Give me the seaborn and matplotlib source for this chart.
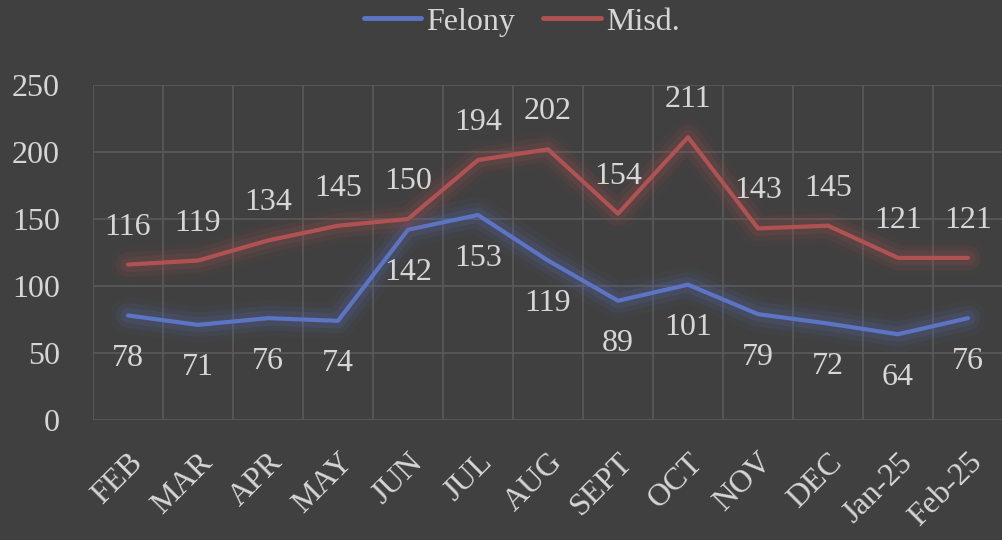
import matplotlib
matplotlib.use("Agg")
import matplotlib.pyplot as plt
import matplotlib.patheffects as pe
import pandas as pd
import seaborn as sns

months = ["FEB", "MAR", "APR", "MAY", "JUN", "JUL", "AUG", "SEPT", "OCT",
          "NOV", "DEC", "Jan-25", "Feb-25"]
felony = [78, 71, 76, 74, 142, 153, 119, 89, 101, 79, 72, 64, 76]
misd = [116, 119, 134, 145, 150, 194, 202, 154, 211, 143, 145, 121, 121]
y_ticks = [0, 50, 100, 150, 200, 250]

BG = "#404040"
TXT = "#d6d6d6"
GRID = "#5a5a5a"
COLORS = {"Felony": "#5b74c4", "Misd.": "#b05252"}

sns.set_theme(style="dark")
plt.rcParams["font.family"] = ["Liberation Serif", "DejaVu Serif"]

df = pd.concat([
    pd.DataFrame({"pos": range(len(months)), "value": felony, "series": "Felony"}),
    pd.DataFrame({"pos": range(len(months)), "value": misd, "series": "Misd."}),
])

fig = plt.figure(figsize=(10.03, 5.40), dpi=100, facecolor=BG)
ax = fig.add_axes([93 / 1003, (540 - 420) / 540, 1 - 93 / 1003, 335 / 540])
ax.set_facecolor(BG)

sns.lineplot(data=df, x="pos", y="value", hue="series", palette=COLORS,
             linewidth=3, ax=ax, legend=False, zorder=3)

# soft glow round each line
for line in ax.get_lines():
    c = line.get_color()
    line.set_path_effects([
        pe.Stroke(linewidth=26, foreground=c, alpha=0.05),
        pe.Stroke(linewidth=18, foreground=c, alpha=0.08),
        pe.Stroke(linewidth=11, foreground=c, alpha=0.14),
        pe.Normal(),
    ])

for i, v in enumerate(misd):
    ax.annotate(str(v), (i, v), xytext=(0, 27), textcoords="offset points",
                ha="center", va="center", color=TXT, fontsize=23)
for i, v in enumerate(felony):
    ax.annotate(str(v), (i, v), xytext=(0, -31), textcoords="offset points",
                ha="center", va="center", color=TXT, fontsize=23)

ax.set_xlim(-0.5, len(months) - 0.5)
ax.set_ylim(0, 250)
ax.set_xticks(range(len(months)))
ax.set_xticklabels(months, rotation=45, ha="right", rotation_mode="anchor",
                   fontsize=23, color=TXT)
ax.set_xticks([i - 0.5 for i in range(len(months) + 1)], minor=True)
ax.set_yticks(y_ticks)
ax.set_yticklabels([str(t) for t in y_ticks], fontsize=23, color=TXT)
ax.tick_params(axis="x", which="major", length=0, pad=20)
ax.tick_params(axis="x", which="minor", length=0)
ax.tick_params(axis="y", length=0, pad=24)
ax.grid(False)
ax.grid(True, axis="x", which="minor", color=GRID, linewidth=1.2)
ax.grid(True, axis="y", which="major", color=GRID, linewidth=1.2)
ax.set_xlabel("")
ax.set_ylabel("")
for s in ax.spines.values():
    s.set_visible(False)

handles = [plt.Line2D([], [], color=COLORS[k], linewidth=3.5) for k in COLORS]
fig.legend(handles, list(COLORS), loc="upper center", bbox_to_anchor=(0.52, 1.04),
           ncol=2, frameon=False, fontsize=23, labelcolor=TXT,
           handlelength=1.8, handletextpad=0.15, columnspacing=0.9)

fig.savefig("out.png", dpi=100, facecolor=BG)
